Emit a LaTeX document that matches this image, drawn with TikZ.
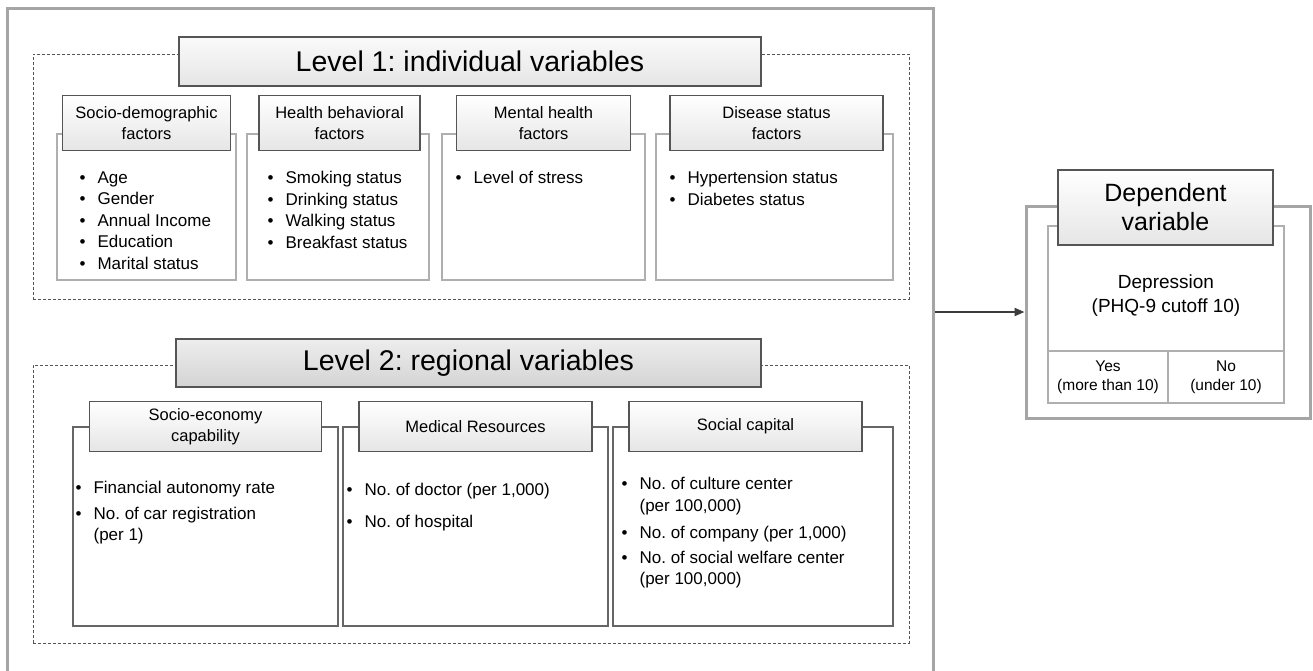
\documentclass[tikz,border=0pt]{standalone}
\usepackage{fontspec}
\setmainfont{Liberation Sans}
\usetikzlibrary{arrows.meta, positioning}
\definecolor{framegray}{RGB}{165, 165, 165}
\definecolor{edgedark}{RGB}{85, 85, 85}
\definecolor{bodygray}{RGB}{175, 175, 175}
\definecolor{arrowcolor}{RGB}{60, 60, 60}
\tikzset{
  outerframe/.style={
    rectangle, draw=framegray, line width=3pt
  },
  levelbox/.style={
    rectangle, draw=edgedark, dash pattern=on 3pt off 2pt, line width=0.8pt
  },
  leveltitle/.style={
    rectangle, draw=edgedark, line width=2pt,
    font=\fontsize{28.5}{30}\selectfont
  },
  facthead/.style={
    rectangle, draw=edgedark, line width=1.8pt, inner sep=0pt,
    top color=white, bottom color=gray!20,
    align=center, font=\fontsize{16.5}{21}\selectfont
  },
  factbody/.style={rectangle, draw=bodygray, line width=1.2pt, fill=white},
  regbody/.style={rectangle, draw=edgedark!90, line width=1.2pt, fill=white},
  itemlist/.style={
    anchor=north west, align=left, inner sep=0pt,
    font=\fontsize{17}{21.5}\selectfont
  },
  arr/.style={-{Triangle[length=10pt, width=8pt]}, line width=2pt, color=arrowcolor}
}
\newcommand{\itembullet}{\makebox[18pt][l]{\textbullet}}
\frenchspacing

\begin{document}
\begin{tikzpicture}[x=1pt, y=-1pt]
  \useasboundingbox[fill=white] (0,0) rectangle (1313,670);

  % ── Outer frame ────────────────────────────────────────────────
  \node[outerframe, minimum width=926pt, minimum height=692pt] (frame) at (470,354) {};

  % ── Level 1 ────────────────────────────────────────────────────
  \node[levelbox, minimum width=876pt, minimum height=245pt] (l1box) at (471,176.5) {};
  \node[leveltitle, top color=gray!4, bottom color=gray!20,
        minimum width=582pt, minimum height=49pt] (l1title) at (470,61.5)
    {Level 1: individual variables};

  % socio-demographic
  \node[factbody, minimum width=179pt, minimum height=146pt] (sd) at (146.5,207) {};
  \node[facthead, minimum width=168pt, minimum height=55pt, anchor=south]
    (sdhead) at ([yshift=-18pt]sd.north) {Socio-demographic\\factors};
  \node[itemlist] (sdlist) at ([xshift=23pt, yshift=-38pt]sd.north west)
    {\itembullet Age\\ \itembullet Gender\\ \itembullet Annual Income\\
     \itembullet Education\\ \itembullet Marital status};

  % health behavioral
  \node[factbody, minimum width=182pt, minimum height=146pt] (hb) at (338,207) {};
  \node[facthead, minimum width=161pt, minimum height=55pt, anchor=south]
    (hbhead) at ([xshift=1.5pt, yshift=-18pt]hb.north) {Health behavioral\\factors};
  \node[itemlist] (hblist) at ([xshift=21pt, yshift=-38pt]hb.north west)
    {\itembullet Smoking status\\ \itembullet Drinking status\\
     \itembullet Walking status\\ \itembullet Breakfast status};

  % mental health
  \node[factbody, minimum width=203pt, minimum height=146pt] (mh) at (543.5,207) {};
  \node[facthead, minimum width=174pt, minimum height=55pt, anchor=south]
    (mhhead) at ([yshift=-18pt]mh.north) {Mental health\\factors};
  \node[itemlist] (mhlist) at ([xshift=14pt, yshift=-38pt]mh.north west)
    {\itembullet Level of stress};

  % disease status
  \node[factbody, minimum width=237pt, minimum height=146pt] (ds) at (774.5,207) {};
  \node[facthead, minimum width=213pt, minimum height=55pt, anchor=south]
    (dshead) at ([xshift=2pt, yshift=-18pt]ds.north) {Disease status\\factors};
  \node[itemlist] (dslist) at ([xshift=14pt, yshift=-38pt]ds.north west)
    {\itembullet Hypertension status\\ \itembullet Diabetes status};

  % ── Level 2 ────────────────────────────────────────────────────
  \node[levelbox, minimum width=876pt, minimum height=278pt] (l2box) at (471,504) {};
  \node[leveltitle, top color=gray!14, bottom color=gray!34,
        minimum width=585pt, minimum height=48pt] (l2title) at (468.5,363)
    {Level 2: regional variables};

  % socio-economy
  \node[regbody, minimum width=265pt, minimum height=199pt] (se) at (205.5,526.5) {};
  \node[facthead, minimum width=232pt, minimum height=50pt, anchor=south]
    (sehead) at ([yshift=-26pt]se.north) {Socio-economy\\capability};
  \node[itemlist] (selist) at ([xshift=3pt, yshift=-55pt]se.north west)
    {\itembullet Financial autonomy rate\\[4pt]
     \itembullet No. of car registration\\ \hspace*{18pt}(per 1)};

  % medical resources
  \node[regbody, minimum width=265pt, minimum height=199pt] (mr) at (475.5,526.5) {};
  \node[facthead, minimum width=233pt, minimum height=50pt, anchor=south]
    (mrhead) at ([yshift=-26pt]mr.north) {Medical Resources};
  \node[itemlist] (mrlist) at ([xshift=4pt, yshift=-57pt]mr.north west)
    {\itembullet No. of doctor (per 1,000)\\[10pt] \itembullet No. of hospital};

  % social capital
  \node[regbody, minimum width=280pt, minimum height=199pt] (sc) at (753,526.5) {};
  \node[facthead, minimum width=233pt, minimum height=50pt, anchor=south]
    (schead) at ([xshift=-7.5pt, yshift=-26pt]sc.north) {Social capital};
  \node[itemlist] (sclist) at ([xshift=9pt, yshift=-51pt]sc.north west)
    {\itembullet No. of culture center\\ \hspace*{18pt}(per 100,000)\\[6pt]
     \itembullet No. of company (per 1,000)\\[3pt]
     \itembullet No. of social welfare center\\ \hspace*{18pt}(per 100,000)};

  % ── Dependent variable ─────────────────────────────────────────
  \node[outerframe, minimum width=284pt, minimum height=212pt] (depframe) at (1168,312) {};
  \node[factbody, minimum width=236pt, minimum height=177pt] (depbody) at (1166,314.5) {};
  \node[factbody, minimum width=120pt, minimum height=52pt, anchor=south west,
        align=center, font=\fontsize{15.5}{19}\selectfont]
    (yescell) at (depbody.south west) {Yes\\(more than 10)};
  \node[factbody, minimum width=116pt, minimum height=52pt, anchor=south east,
        align=center, font=\fontsize{15.5}{19}\selectfont]
    (nocell) at (depbody.south east) {No\\(under 10)};
  \node[font=\fontsize{19}{24}\selectfont, align=center] (deptext) at (1166,296)
    {Depression\\(PHQ-9 cutoff 10)};
  \node[facthead, font=\fontsize{25}{29}\selectfont,
        minimum width=215pt, minimum height=75pt] (dephead) at (1165.5,207.5)
    {Dependent\\variable};

  % ── Flow arrow ─────────────────────────────────────────────────
  \draw[arr] (frame.east |- depframe.west) -- (depframe.west);

\end{tikzpicture}
\end{document}
